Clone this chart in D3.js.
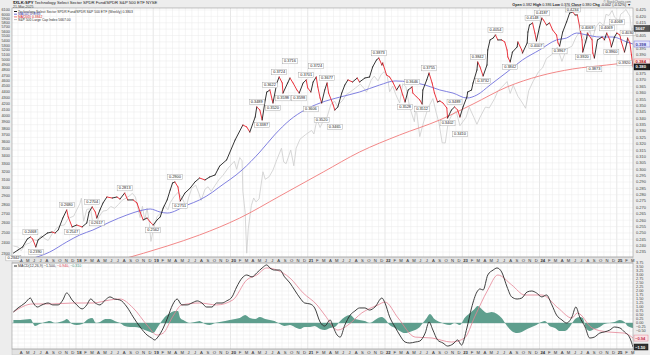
<!DOCTYPE html>
<html>
<head>
<meta charset="utf-8">
<script src="https://cdn.jsdelivr.net/npm/d3@7"></script>
<style>
  body { margin: 0; background: #fff; }
  svg { display: block; font-family: "Liberation Sans", Arial, sans-serif; }
</style>
</head>
<body>
<svg id="chart" width="650" height="355"></svg>
<script>
// ---- DATA (decimal year, value) ----
var ratioPts = [[2017.19,.2342],[2017.25,.2366],[2017.31,.2390],[2017.37,.2452],[2017.41,.2468],[2017.44,.2452],[2017.48,.2390],[2017.51,.2445],[2017.56,.2468],[2017.63,.2499],[2017.69,.2507],[2017.73,.2499],[2017.77,.2523],[2017.83,.2617],[2017.88,.2680],[2017.90,.2625],[2017.95,.2547],[2018.01,.2562],[2018.08,.2547],[2018.14,.2578],[2018.17,.2664],[2018.21,.2704],[2018.25,.2664],[2018.27,.2617],[2018.31,.2680],[2018.35,.2735],[2018.40,.2782],[2018.47,.2774],[2018.53,.2782],[2018.57,.2766],[2018.63,.2813],[2018.67,.2759],[2018.74,.2759],[2018.79,.2735],[2018.83,.2664],[2018.87,.2602],[2018.92,.2617],[2018.96,.2586],[2019.00,.2562],[2019.05,.2602],[2019.09,.2625],[2019.13,.2696],[2019.18,.2759],[2019.22,.2837],[2019.25,.2892],[2019.28,.2900],[2019.32,.2861],[2019.35,.2751],[2019.41,.2813],[2019.48,.2853],[2019.54,.2900],[2019.60,.2931],[2019.67,.2916],[2019.73,.2939],[2019.80,.2955],[2019.84,.3002],[2019.86,.3025],[2019.95,.3073],[2020.06,.3230],[2020.16,.3347],[2020.21,.3332],[2020.25,.3292],[2020.32,.3410],[2020.34,.3489],[2020.38,.3465],[2020.41,.3387],[2020.45,.3544],[2020.47,.3606],[2020.51,.3622],[2020.54,.3544],[2020.55,.3520],[2020.60,.3677],[2020.63,.3724],[2020.67,.3677],[2020.68,.3598],[2020.74,.3677],[2020.77,.3716],[2020.81,.3677],[2020.86,.3622],[2020.89,.3598],[2020.94,.3677],[2020.98,.3701],[2021.00,.3638],[2021.04,.3606],[2021.07,.3685],[2021.11,.3724],[2021.13,.3646],[2021.16,.3559],[2021.18,.3520],[2021.22,.3622],[2021.25,.3677],[2021.27,.3598],[2021.33,.3504],[2021.35,.3465],[2021.39,.3489],[2021.44,.3598],[2021.48,.3661],[2021.52,.3701],[2021.58,.3685],[2021.64,.3716],[2021.67,.3685],[2021.74,.3716],[2021.80,.3724],[2021.84,.3803],[2021.89,.3858],[2021.92,.3873],[2021.96,.3818],[2021.97,.3834],[2022.02,.3740],[2022.06,.3724],[2022.10,.3685],[2022.15,.3622],[2022.19,.3661],[2022.23,.3583],[2022.26,.3528],[2022.30,.3622],[2022.35,.3646],[2022.36,.3598],[2022.41,.3567],[2022.45,.3544],[2022.48,.3512],[2022.49,.3622],[2022.54,.3701],[2022.57,.3755],[2022.61,.3677],[2022.64,.3598],[2022.68,.3528],[2022.71,.3536],[2022.75,.3520],[2022.80,.3481],[2022.81,.3402],[2022.86,.3465],[2022.90,.3489],[2022.94,.3465],[2022.97,.3410],[2023.01,.3489],[2023.06,.3567],[2023.07,.3606],[2023.12,.3622],[2023.14,.3677],[2023.19,.3779],[2023.20,.3842],[2023.23,.3803],[2023.27,.3732],[2023.32,.3818],[2023.33,.3936],[2023.36,.4015],[2023.40,.4030],[2023.43,.4054],[2023.46,.4015],[2023.51,.4015],[2023.55,.3999],[2023.58,.3936],[2023.59,.3881],[2023.62,.3842],[2023.65,.3920],[2023.71,.3960],[2023.72,.3999],[2023.77,.3936],[2023.78,.3912],[2023.84,.3991],[2023.85,.4077],[2023.87,.4132],[2023.91,.4148],[2023.94,.4069],[2023.96,.4007],[2024.00,.4117],[2024.03,.4187],[2024.05,.4172],[2024.09,.4132],[2024.13,.4148],[2024.17,.4093],[2024.22,.4054],[2024.24,.3991],[2024.26,.3967],[2024.30,.4077],[2024.35,.4156],[2024.39,.4226],[2024.43,.4234],[2024.46,.4211],[2024.49,.4211],[2024.52,.4117],[2024.55,.4015],[2024.56,.3920],[2024.61,.4030],[2024.62,.4069],[2024.68,.4015],[2024.69,.3912],[2024.71,.3873],[2024.75,.4015],[2024.81,.4038],[2024.84,.4015],[2024.87,.4069],[2024.91,.4015],[2024.93,.3960],[2024.97,.4038],[2025.00,.4069],[2025.04,.4054],[2025.06,.3999],[2025.10,.3920],[2025.13,.3991],[2025.14,.4030],[2025.17,.3991],[2025.19,.3897],[2025.21,.3803]];

var ma50Pts = [[2017.41,.2295],[2017.66,.2350],[2017.88,.2429],[2018.05,.2484],[2018.22,.2523],[2018.44,.2586],[2018.66,.2641],[2018.87,.2680],[2018.96,.2688],[2019.09,.2664],[2019.18,.2656],[2019.44,.2719],[2019.60,.2759],[2019.77,.2821],[2019.84,.2853],[2020.15,.2994],[2020.38,.3135],[2020.57,.3269],[2020.77,.3387],[2020.96,.3465],[2021.16,.3520],[2021.42,.3567],[2021.67,.3606],[2021.93,.3661],[2022.13,.3693],[2022.32,.3685],[2022.52,.3661],[2022.71,.3622],[2022.88,.3598],[2023.06,.3559],[2023.19,.3583],[2023.36,.3661],[2023.58,.3763],[2023.78,.3858],[2024.00,.3936],[2024.22,.4015],[2024.35,.4030],[2024.48,.4069],[2024.61,.4054],[2024.78,.4038],[2024.95,.4038],[2025.13,.3999],[2025.21,.3983]];

var ma200Pts = [[2018.57,.2288],[2019.18,.2397],[2019.60,.2484],[2020.12,.2617],[2020.64,.2790],[2021.20,.2978],[2021.67,.3135],[2022.19,.3269],[2022.71,.3387],[2023.14,.3512],[2023.58,.3646],[2024.00,.3732],[2024.43,.3787],[2024.87,.3818],[2025.21,.3842]];

var spxPts = [[2017.19,2372],[2017.25,2363],[2017.29,2328],[2017.35,2388],[2017.40,2400],[2017.45,2432],[2017.50,2425],[2017.55,2472],[2017.60,2441],[2017.64,2425],[2017.70,2500],[2017.75,2550],[2017.80,2575],[2017.85,2580],[2017.90,2650],[2017.97,2673],[2018.05,2810],[2018.07,2872],[2018.10,2619],[2018.14,2747],[2018.19,2752],[2018.22,2588],[2018.27,2604],[2018.30,2670],[2018.35,2728],[2018.40,2735],[2018.45,2779],[2018.50,2759],[2018.55,2801],[2018.60,2850],[2018.65,2874],[2018.70,2905],[2018.73,2930],[2018.77,2885],[2018.80,2767],[2018.83,2658],[2018.86,2781],[2018.89,2632],[2018.92,2760],[2018.95,2600],[2018.97,2416],[2019.00,2531],[2019.05,2670],[2019.10,2707],[2019.14,2792],[2019.19,2743],[2019.22,2822],[2019.27,2889],[2019.32,2940],[2019.37,2881],[2019.40,2826],[2019.42,2752],[2019.46,2886],[2019.50,2990],[2019.55,3026],[2019.59,2932],[2019.62,2847],[2019.67,2978],[2019.71,3007],[2019.75,2952],[2019.80,3023],[2019.85,3093],[2019.90,3145],[2019.97,3240],[2020.05,3330],[2020.08,3225],[2020.12,3380],[2020.15,3337],[2020.16,2954],[2020.19,2711],[2020.21,2305],[2020.23,2541],[2020.27,2789],[2020.30,2875],[2020.33,2830],[2020.37,2864],[2020.42,3193],[2020.45,3098],[2020.50,3130],[2020.55,3215],[2020.60,3351],[2020.66,3508],[2020.69,3319],[2020.72,3298],[2020.78,3484],[2020.82,3270],[2020.85,3509],[2020.90,3638],[2020.97,3703],[2021.05,3768],[2021.08,3714],[2021.12,3934],[2021.16,3811],[2021.20,3913],[2021.25,3974],[2021.30,4185],[2021.35,4232],[2021.38,4155],[2021.45,4247],[2021.50,4352],[2021.55,4395],[2021.62,4468],[2021.68,4535],[2021.73,4455],[2021.76,4391],[2021.82,4605],[2021.86,4682],[2021.91,4594],[2021.95,4712],[2021.99,4766],[2022.03,4677],[2022.06,4398],[2022.10,4500],[2022.14,4348],[2022.19,4204],[2022.23,4543],[2022.27,4488],[2022.32,4131],[2022.38,3901],[2022.40,4158],[2022.45,3675],[2022.50,3899],[2022.56,4130],[2022.62,4280],[2022.66,4058],[2022.70,3873],[2022.74,3585],[2022.78,3583],[2022.82,3901],[2022.86,3993],[2022.92,4071],[2022.97,3839],[2023.05,3972],[2023.09,4136],[2023.15,3970],[2023.19,3861],[2023.23,3971],[2023.30,4137],[2023.35,4124],[2023.42,4282],[2023.46,4410],[2023.55,4536],[2023.58,4582],[2023.62,4369],[2023.66,4515],[2023.72,4320],[2023.77,4224],[2023.82,4117],[2023.86,4415],[2023.92,4594],[2023.99,4770],[2024.04,4840],[2024.09,5026],[2024.17,5117],[2024.23,5254],[2024.29,4967],[2024.35,5223],[2024.42,5277],[2024.47,5464],[2024.53,5615],[2024.57,5459],[2024.60,5344],[2024.65,5634],[2024.68,5408],[2024.73,5702],[2024.78,5815],[2024.83,5728],[2024.86,5995],[2024.90,5969],[2024.94,6090],[2024.97,5930],[2025.00,5881],[2025.03,5827],[2025.05,5997],[2025.08,6040],[2025.12,6114],[2025.15,6013],[2025.17,5954],[2025.19,5639],[2025.21,5667]];

var macdPts = [[2017.19,.69],[2017.25,.94],[2017.34,1.25],[2017.41,1.56],[2017.44,1.31],[2017.50,1.00],[2017.56,1.13],[2017.64,1.25],[2017.70,1.13],[2017.77,1.13],[2017.83,1.44],[2017.88,1.88],[2017.95,1.44],[2018.01,1.13],[2018.08,.88],[2018.14,1.13],[2018.19,1.50],[2018.25,1.25],[2018.31,1.13],[2018.38,1.44],[2018.44,1.63],[2018.50,1.50],[2018.57,1.44],[2018.66,1.00],[2018.74,.38],[2018.83,-.25],[2018.92,-.75],[2018.98,-.94],[2019.02,-1.06],[2019.06,-.88],[2019.13,-.31],[2019.19,.38],[2019.25,1.13],[2019.31,1.50],[2019.37,1.13],[2019.44,1.13],[2019.50,1.25],[2019.57,1.38],[2019.63,1.25],[2019.69,1.00],[2019.76,1.00],[2019.82,1.25],[2019.89,1.25],[2019.95,1.38],[2020.02,1.63],[2020.08,2.25],[2020.15,2.81],[2020.21,3.00],[2020.28,2.88],[2020.34,3.13],[2020.41,3.44],[2020.47,3.63],[2020.51,3.44],[2020.57,3.31],[2020.64,3.31],[2020.70,2.88],[2020.77,2.50],[2020.83,2.06],[2020.90,1.56],[2020.96,1.25],[2021.03,1.19],[2021.09,.94],[2021.16,.06],[2021.22,-.19],[2021.29,.19],[2021.33,-.25],[2021.38,-.75],[2021.42,-.88],[2021.48,-.13],[2021.55,.50],[2021.61,.75],[2021.67,.94],[2021.74,.94],[2021.80,.81],[2021.87,1.00],[2021.96,1.56],[2022.00,1.25],[2022.06,.38],[2022.13,-.25],[2022.19,-.75],[2022.26,-1.19],[2022.32,-1.25],[2022.39,-1.19],[2022.45,-1.13],[2022.52,-.63],[2022.57,.06],[2022.62,-.44],[2022.68,-1.06],[2022.75,-1.25],[2022.81,-1.44],[2022.88,-1.31],[2022.94,-1.06],[2022.99,-1.38],[2023.06,-.31],[2023.12,.94],[2023.19,1.94],[2023.23,2.13],[2023.27,2.06],[2023.33,3.00],[2023.40,3.31],[2023.45,3.44],[2023.51,3.19],[2023.58,2.25],[2023.64,1.63],[2023.71,1.50],[2023.77,1.56],[2023.84,1.94],[2023.90,2.00],[2023.96,1.88],[2024.03,1.63],[2024.09,1.75],[2024.16,1.13],[2024.22,.50],[2024.29,.19],[2024.35,0],[2024.42,.38],[2024.47,1.00],[2024.52,.38],[2024.59,-.25],[2024.65,-.94],[2024.71,-.88],[2024.78,-.63],[2024.84,-.56],[2024.91,-.44],[2024.97,-.25],[2025.04,-.31],[2025.10,-.56],[2025.17,-.94],[2025.21,-1.50]];

var signalPts = [[2017.19,.69],[2017.44,1.19],[2017.70,1.19],[2017.96,1.25],[2018.22,1.25],[2018.44,1.44],[2018.57,1.50],[2018.74,.94],[2018.92,-.13],[2019.05,-.75],[2019.13,-.63],[2019.25,.38],[2019.37,1.13],[2019.60,1.25],[2019.82,1.13],[2020.03,1.44],[2020.21,2.69],[2020.34,3.00],[2020.47,3.44],[2020.60,3.31],[2020.77,2.81],[2020.94,1.88],[2021.12,1.13],[2021.22,.50],[2021.39,-.44],[2021.52,-.13],[2021.70,.63],[2021.91,1.13],[2022.00,1.31],[2022.17,.31],[2022.39,-.88],[2022.61,-.94],[2022.86,-1.19],[2023.03,-.94],[2023.16,.38],[2023.33,2.06],[2023.46,3.00],[2023.64,2.38],[2023.81,1.75],[2024.03,1.75],[2024.24,.94],[2024.42,.31],[2024.49,.63],[2024.68,-.31],[2024.88,-.56],[2025.10,-.63],[2025.21,-.94]];

var histPts = [[2017.19,.19],[2017.28,.19],[2017.34,.22],[2017.41,.25],[2017.47,-.19],[2017.53,-.06],[2017.60,.06],[2017.66,.13],[2017.73,0],[2017.79,.06],[2017.86,.19],[2017.88,.25],[2017.95,-.06],[2018.01,-.13],[2018.08,-.06],[2018.16,.25],[2018.21,.31],[2018.26,0],[2018.31,.06],[2018.38,.25],[2018.44,.25],[2018.50,.13],[2018.57,0],[2018.63,-.19],[2018.70,-.25],[2018.76,-.25],[2018.83,-.31],[2018.89,-.44],[2018.96,-.56],[2019.00,-.63],[2019.05,-.31],[2019.11,.13],[2019.15,.38],[2019.22,.63],[2019.28,.75],[2019.32,.75],[2019.35,.31],[2019.41,.13],[2019.48,0],[2019.54,.06],[2019.60,.13],[2019.67,-.06],[2019.73,-.13],[2019.80,0],[2019.86,.06],[2019.93,.13],[2019.99,.19],[2020.06,.25],[2020.12,.31],[2020.19,.5],[2020.25,.31],[2020.32,.25],[2020.38,.38],[2020.45,.25],[2020.51,.19],[2020.57,.13],[2020.64,-.06],[2020.70,-.19],[2020.77,-.13],[2020.83,-.25],[2020.90,-.38],[2020.96,-.25],[2021.03,-.25],[2021.09,-.19],[2021.16,-.38],[2021.22,-.44],[2021.29,-.31],[2021.35,-.25],[2021.42,.13],[2021.48,.38],[2021.55,.5],[2021.61,.25],[2021.67,.19],[2021.74,.13],[2021.80,0],[2021.87,.19],[2021.91,.31],[2021.96,.38],[2022.00,.25],[2022.06,-.13],[2022.13,-.31],[2022.19,-.5],[2022.26,-.63],[2022.32,-.56],[2022.39,-.44],[2022.45,-.25],[2022.49,0],[2022.54,.31],[2022.58,.56],[2022.64,.25],[2022.71,.06],[2022.77,-.06],[2022.84,-.13],[2022.90,0],[2022.97,-.13],[2023.03,.31],[2023.10,.63],[2023.16,.88],[2023.20,1.06],[2023.25,.88],[2023.32,.63],[2023.38,.69],[2023.45,.56],[2023.51,.31],[2023.58,-.19],[2023.64,-.5],[2023.71,-.63],[2023.77,-.56],[2023.84,-.38],[2023.90,-.25],[2023.96,-.13],[2024.00,0],[2024.07,.13],[2024.13,-.19],[2024.20,-.31],[2024.26,-.5],[2024.33,-.5],[2024.39,-.25],[2024.46,.25],[2024.52,.38],[2024.56,.31],[2024.60,-.31],[2024.65,-.5],[2024.71,-.38],[2024.78,-.25],[2024.84,-.06],[2024.91,0],[2024.97,.06],[2025.04,.19],[2025.10,.06],[2025.14,-.19],[2025.21,-.31]];

var monthLetters = ['J','F','M','A','M','J','J','A','S','O','N','D'];
var startYear = 2017.172, endYear = 2025.21;
var ratioTicks = d3.range(0.235, 0.4251, 0.005);
var spxTicks = d3.range(2300, 6101, 100);
var macdTicks = d3.range(-1.5, 3.76, 0.25);

// ---- LAYOUT ----
var W = 650, H = 355;
var pl = 12, pr = 633, mt = 8, mb = 257, ct = 263, cb = 349;

var svg = d3.select('#chart');
var x = d3.scaleLinear().domain([startYear, endYear]).range([pl, pr]);
var yR = d3.scaleLinear().domain([0.2311, 0.42657]).range([mb, mt]);
var yS = d3.scaleLog().domain([2270, 6150]).range([mb, mt]);
var yM = d3.scaleLinear().domain([-1.625, 3.75]).range([cb, ct]);

// backgrounds
svg.append('rect').attr('x', 0).attr('y', 0).attr('width', W).attr('height', H).attr('fill', '#ededed');
svg.append('rect').attr('x', pl).attr('y', mt).attr('width', pr - pl).attr('height', mb - mt).attr('fill', '#fff');
svg.append('rect').attr('x', pl).attr('y', ct).attr('width', pr - pl).attr('height', cb - ct).attr('fill', '#fff');

var defs = svg.append('defs');
defs.append('clipPath').attr('id', 'clipMain').append('rect')
  .attr('x', pl).attr('y', mt).attr('width', pr - pl).attr('height', mb - mt);
defs.append('clipPath').attr('id', 'clipMacd').append('rect')
  .attr('x', pl).attr('y', ct).attr('width', pr - pl).attr('height', cb - ct);

// month grid
var months = [];
for (var yr = 2017; yr <= 2025; yr++) {
  for (var m = 0; m < 12; m++) {
    var t = yr + m / 12;
    if (t >= startYear && t <= endYear) months.push({t: t, m: m, yr: yr});
  }
}

function vgrid(top, bot) {
  svg.append('g').selectAll('line').data(months).enter().append('line')
    .attr('x1', function(d) { return x(d.t); })
    .attr('x2', function(d) { return x(d.t); })
    .attr('y1', top).attr('y2', bot)
    .attr('stroke', function(d) { return d.m === 0 ? '#cfcfcf' : '#ebebeb'; })
    .attr('stroke-width', 0.5);
}
vgrid(mt, mb);
vgrid(ct, cb);

svg.append('g').selectAll('line').data(ratioTicks).enter().append('line')
  .attr('x1', pl).attr('x2', pr)
  .attr('y1', function(d) { return yR(d); }).attr('y2', function(d) { return yR(d); })
  .attr('stroke', '#ebebeb').attr('stroke-width', 0.5);
svg.append('g').selectAll('line').data(macdTicks).enter().append('line')
  .attr('x1', pl).attr('x2', pr)
  .attr('y1', function(d) { return yM(d); }).attr('y2', function(d) { return yM(d); })
  .attr('stroke', '#ebebeb').attr('stroke-width', 0.5);

// month strips
function monthStrip(y0) {
  svg.append('rect').attr('x', pl).attr('y', y0).attr('width', pr - pl).attr('height', 6)
    .attr('fill', '#e2e2e2').attr('stroke', '#b5b5b5').attr('stroke-width', 0.4);
  svg.append('g').selectAll('text').data(months).enter().append('text')
    .attr('x', function(d) { return x(d.t + 1 / 24); })
    .attr('y', y0 + 4.6)
    .attr('text-anchor', 'middle')
    .attr('font-size', 4.2)
    .attr('font-weight', function(d) { return d.m === 0 ? 'bold' : 'normal'; })
    .attr('fill', '#333')
    .text(function(d) { return d.m === 0 ? String(d.yr).slice(2) : monthLetters[d.m]; });
}
monthStrip(mb);
monthStrip(cb);

// ---- MAIN PANEL ----
var main = svg.append('g').attr('clip-path', 'url(#clipMain)');
var lineS = d3.line().x(function(d) { return x(d[0]); }).y(function(d) { return yS(d[1]); });
var lineMA = d3.line().x(function(d) { return x(d[0]); }).y(function(d) { return yR(d[1]); })
  .curve(d3.curveMonotoneX);

main.append('path').datum(spxPts).attr('d', lineS)
  .attr('fill', 'none').attr('stroke', '#cdcdcd').attr('stroke-width', 0.8);
main.append('path').datum(ma200Pts).attr('d', lineMA)
  .attr('fill', 'none').attr('stroke', '#f07a7a').attr('stroke-width', 0.9);
main.append('path').datum(ma50Pts).attr('d', lineMA)
  .attr('fill', 'none').attr('stroke', '#7272dc').attr('stroke-width', 0.9);

// ratio line, black when rising, red when falling
var segs = d3.pairs(ratioPts);
main.append('g').selectAll('line').data(segs).enter().append('line')
  .attr('x1', function(d) { return x(d[0][0]); })
  .attr('y1', function(d) { return yR(d[0][1]); })
  .attr('x2', function(d) { return x(d[1][0]); })
  .attr('y2', function(d) { return yR(d[1][1]); })
  .attr('stroke', function(d) { return d[1][1] >= d[0][1] ? '#1e1e1e' : '#e8202a'; })
  .attr('stroke-width', 0.9)
  .attr('stroke-linecap', 'round');

// zigzag pivot labels
function zigzag(pts, th) {
  var out = [], dir = 0, ei = 0, hi = 0, lo = 0;
  for (var i = 1; i < pts.length; i++) {
    var v = pts[i][1];
    if (dir === 0) {
      if (v > pts[hi][1]) hi = i;
      if (v < pts[lo][1]) lo = i;
      if (pts[hi][1] / pts[lo][1] - 1 > th) {
        if (hi > lo) { out.push({i: lo, hi: false}); dir = 1; ei = hi; }
        else { out.push({i: hi, hi: true}); dir = -1; ei = lo; }
      }
    } else if (dir === 1) {
      if (v > pts[ei][1]) ei = i;
      else if (v < pts[ei][1] * (1 - th)) { out.push({i: ei, hi: true}); dir = -1; ei = i; }
    } else {
      if (v < pts[ei][1]) ei = i;
      else if (v > pts[ei][1] * (1 + th)) { out.push({i: ei, hi: false}); dir = 1; ei = i; }
    }
  }
  return out;
}
var pivots = zigzag(ratioPts, 0.022);
var fmt4 = d3.format('.4f');
var bw = 15, bh = 5.4;
// place labels, nudging away from the line when two boxes collide
var placed = [];
pivots.forEach(function(d) {
  var p = ratioPts[d.i];
  d.cx = x(p[0]);
  d.cy = Math.max(yR(p[1]) + (d.hi ? -5 : 5), mt + 1.2);
  var hit = true, n = 0;
  while (hit && n < 6) {
    hit = placed.some(function(q) {
      return Math.abs(q.cx - d.cx) < bw + 0.6 && Math.abs(q.cy - d.cy) < bh + 0.6;
    });
    if (hit) { d.cy += d.hi ? (d.cy - 6 < mt ? 6 : -6) : 6; n++; }
  }
  placed.push(d);
});
var pg = svg.append('g').selectAll('g').data(pivots).enter().append('g')
  .attr('transform', function(d) { return 'translate(' + d.cx + ',' + d.cy + ')'; });
pg.append('rect').attr('x', -bw / 2).attr('y', -2.6).attr('width', bw).attr('height', bh)
  .attr('fill', '#fff').attr('stroke', '#9a9a9a').attr('stroke-width', 0.4);
pg.append('text').attr('text-anchor', 'middle').attr('y', 1.4)
  .attr('font-size', 3.9).attr('fill', '#222')
  .text(function(d) { return fmt4(ratioPts[d.i][1]); });

// value flags on the right axis
var lastR = ratioPts[ratioPts.length - 1][1];
var last50 = ma50Pts[ma50Pts.length - 1][1];
var last200 = ma200Pts[ma200Pts.length - 1][1];
var lastS = spxPts[spxPts.length - 1][1];
var flagsMain = [yS(lastS), yR(last50), yR(last200), yR(lastR)];
function clear(yv, list) {
  return list.every(function(f) { return Math.abs(f - yv) > 4.2; });
}

// axes text
svg.append('g').selectAll('text')
  .data(ratioTicks.filter(function(d) { return clear(yR(d), flagsMain); }))
  .enter().append('text')
  .attr('x', pr + 3).attr('y', function(d) { return yR(d) + 1.4; })
  .attr('font-size', 4).attr('fill', '#444')
  .text(function(d) { return d3.format('.3f')(d); });
svg.append('g').selectAll('text').data(spxTicks).enter().append('text')
  .attr('x', 1.5).attr('y', function(d) { return yS(d) + 1.4; })
  .attr('font-size', 3.8).attr('fill', '#444')
  .text(function(d) { return d; });

function flag(yv, txt, fill, stroke, color) {
  svg.append('rect').attr('x', pr + 1).attr('y', yv - 3).attr('width', 16).attr('height', 6)
    .attr('fill', fill).attr('stroke', stroke).attr('stroke-width', 0.5);
  svg.append('text').attr('x', pr + 2.5).attr('y', yv + 1.5).attr('font-size', 4.2)
    .attr('font-weight', 'bold').attr('fill', color).text(txt);
}
flag(yS(lastS), d3.format('.0f')(lastS), '#555', '#333', '#fff');
flag(yR(last50), d3.format('.3f')(last50), '#e6e6fb', '#7272dc', '#3a3aa0');
flag(yR(last200), d3.format('.3f')(last200), '#fde6e6', '#f07a7a', '#b02020');
flag(yR(lastR), d3.format('.3f')(lastR), '#222', '#000', '#fff');

// frames
svg.append('rect').attr('x', pl).attr('y', mt).attr('width', pr - pl).attr('height', mb - mt)
  .attr('fill', 'none').attr('stroke', '#9a9a9a').attr('stroke-width', 0.6);

// header + legend
svg.append('text').attr('x', pl + 1).attr('y', 3.8).attr('font-size', 4.2).attr('fill', '#222')
  .html('<tspan font-weight="bold">$XLK:SPY</tspan> Technology Select Sector SPDR Fund/SPDR S&amp;P 500 ETF  NYSE');
svg.append('text').attr('x', pl + 1).attr('y', 7.6).attr('font-size', 3.6).attr('fill', '#444').text('21-Mar-2025');
svg.append('text').attr('x', pr - 2).attr('y', 2.8).attr('text-anchor', 'end').attr('font-size', 3.2)
  .attr('fill', '#666').text('© StockCharts.com');
svg.append('text').attr('x', pr - 2).attr('y', 6.4).attr('text-anchor', 'end').attr('font-size', 3.7)
  .attr('fill', '#222')
  .html('<tspan font-weight="bold">Open</tspan> 0.382 <tspan font-weight="bold">High</tspan> 0.386 <tspan font-weight="bold">Low</tspan> 0.376 <tspan font-weight="bold">Close</tspan> 0.380 <tspan font-weight="bold">Chg</tspan> -0.002 (-0.52%) ▼');

var legend = [
  {c: '#1e1e1e', t: 'Technology Select Sector SPDR Fund/SPDR S&P 500 ETF (Weekly) ' + d3.format('.4f')(lastR)},
  {c: '#7272dc', t: 'MA(50) ' + d3.format('.4f')(last50)},
  {c: '#f07a7a', t: 'MA(200) ' + d3.format('.4f')(last200)},
  {c: '#bdbdbd', t: 'S&P 500 Large Cap Index ' + d3.format('.2f')(lastS)}
];
var lg = svg.append('g').selectAll('g').data(legend).enter().append('g')
  .attr('transform', function(d, i) { return 'translate(' + (pl + 2) + ',' + (11.5 + i * 2.7) + ')'; });
lg.append('line').attr('x1', 0).attr('x2', 3).attr('stroke', function(d) { return d.c; }).attr('stroke-width', 1);
lg.append('text').attr('x', 4).attr('y', 1.2).attr('font-size', 3.4)
  .attr('fill', function(d) { return d.c === '#f07a7a' ? '#d02020' : (d.c === '#7272dc' ? '#3a3aa0' : '#333'); })
  .text(function(d) { return d.t; });

// ---- MACD PANEL ----
var macdG = svg.append('g').attr('clip-path', 'url(#clipMacd)');
var area = d3.area().x(function(d) { return x(d[0]); }).y0(yM(0)).y1(function(d) { return yM(d[1]); })
  .curve(d3.curveMonotoneX);
macdG.append('path').datum(histPts).attr('d', area).attr('fill', '#5f9f8e');
macdG.append('line').attr('x1', pl).attr('x2', pr).attr('y1', yM(0)).attr('y2', yM(0))
  .attr('stroke', '#5f9f8e').attr('stroke-width', 0.4);
var lineM = d3.line().x(function(d) { return x(d[0]); }).y(function(d) { return yM(d[1]); })
  .curve(d3.curveMonotoneX);
macdG.append('path').datum(signalPts).attr('d', lineM)
  .attr('fill', 'none').attr('stroke', '#e48394').attr('stroke-width', 0.8);
macdG.append('path').datum(macdPts).attr('d', lineM)
  .attr('fill', 'none').attr('stroke', '#2a2a2a').attr('stroke-width', 0.9);

var lastM = macdPts[macdPts.length - 1][1];
var lastSig = signalPts[signalPts.length - 1][1];
var lastH = histPts[histPts.length - 1][1];
var flagsMacd = [yM(lastSig), yM(lastM)];

svg.append('g').selectAll('text')
  .data(macdTicks.filter(function(d) { return clear(yM(d), flagsMacd); }))
  .enter().append('text')
  .attr('x', pr + 3).attr('y', function(d) { return yM(d) + 1.4; })
  .attr('font-size', 3.8).attr('fill', '#444')
  .text(function(d) { return d3.format('.2f')(d); });

function flagM(yv, txt, fill, stroke, color) {
  svg.append('rect').attr('x', pr + 1).attr('y', yv - 3).attr('width', 14).attr('height', 6)
    .attr('fill', fill).attr('stroke', stroke).attr('stroke-width', 0.5);
  svg.append('text').attr('x', pr + 2.2).attr('y', yv + 1.5).attr('font-size', 4)
    .attr('font-weight', 'bold').attr('fill', color).text(txt);
}
flagM(yM(lastSig), d3.format('.2f')(lastSig), '#fbe3e7', '#e48394', '#c0304a');
flagM(yM(lastM), d3.format('.2f')(lastM), '#333', '#111', '#fff');

svg.append('rect').attr('x', pl).attr('y', ct).attr('width', pr - pl).attr('height', cb - ct)
  .attr('fill', 'none').attr('stroke', '#9a9a9a').attr('stroke-width', 0.6);

var ml = svg.append('text').attr('x', pl + 6).attr('y', ct + 4).attr('font-size', 3.6).attr('fill', '#333');
ml.append('tspan').text('MACD(12,26,9) ' + d3.format('.3f')(lastM) + ', ');
ml.append('tspan').attr('fill', '#d0304a').text(d3.format('.3f')(lastSig) + ', ');
ml.append('tspan').attr('fill', '#3f8f7a').text(d3.format('.3f')(lastH));
svg.append('line').attr('x1', pl + 2).attr('x2', pl + 5).attr('y1', ct + 3).attr('y2', ct + 3)
  .attr('stroke', '#2a2a2a').attr('stroke-width', 1);
</script>
</body>
</html>
